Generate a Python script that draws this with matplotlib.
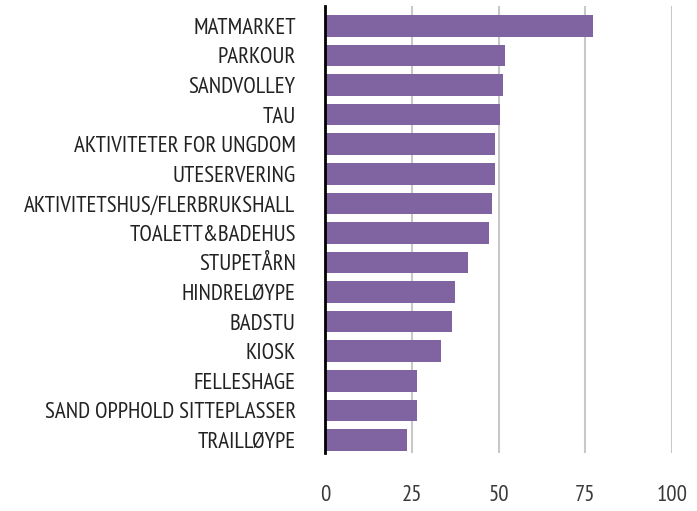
import matplotlib
matplotlib.use("Agg")
import matplotlib.pyplot as plt
from matplotlib import font_manager

categories = ["MATMARKET", "PARKOUR", "SANDVOLLEY", "TAU", "AKTIVITETER FOR UNGDOM",
              "UTESERVERING", "AKTIVITETSHUS/FLERBRUKSHALL", "TOALETT&BADEHUS",
              "STUPETÅRN", "HINDRELØYPE", "BADSTU", "KIOSK", "FELLESHAGE",
              "SAND OPPHOLD SITTEPLASSER", "TRAILLØYPE"]
values = [77.1, 51.7, 51.1, 50.3, 48.8, 48.8, 48.0, 47.1, 41.0, 37.3, 36.4, 33.2, 26.3, 26.3, 23.4]
xticks = [0, 25, 50, 75, 100]

# condensed font if one is around, otherwise a plain sans at smaller size
names = {f.name for f in font_manager.fontManager.ttflist}
font = None
for cand in ["PT Sans Narrow", "Fira Sans Condensed", "Roboto Condensed",
             "Open Sans Condensed", "Archivo Narrow", "Liberation Sans Narrow"]:
    if cand in names:
        font = cand
        break
if font:
    plt.rcParams['font.family'] = [font, "DejaVu Sans"]
    fs = 16.5
else:
    plt.rcParams['font.family'] = ["Roboto", "DejaVu Sans"]
    fs = 13

fig = plt.figure(figsize=(6.97, 5.11), dpi=100)
ax = fig.add_axes([0.467, 0.1135, 0.497, 0.8748])

y = list(range(len(categories)))
ax.barh(y, values, height=0.73, color="#8064A2", zorder=3)
ax.set_ylim(len(categories) - 0.56, -0.67)
ax.set_xlim(0, 100)
ax.set_xticks(xticks)
ax.set_yticks(y)
ax.set_yticklabels(categories)

ax.grid(axis="x", color="#c8c8c8", linewidth=1.5, zorder=0)
for s in ["top", "right", "bottom"]:
    ax.spines[s].set_visible(False)
ax.spines["left"].set_color("black")
ax.spines["left"].set_linewidth(2)
ax.spines["left"].set_zorder(4)

ax.tick_params(axis="y", length=0, pad=21.5, labelsize=fs, labelcolor="#222222")
ax.tick_params(axis="x", length=0, pad=23, labelsize=fs, labelcolor="#3a3a3a")

fig.savefig("out.png", dpi=100)
